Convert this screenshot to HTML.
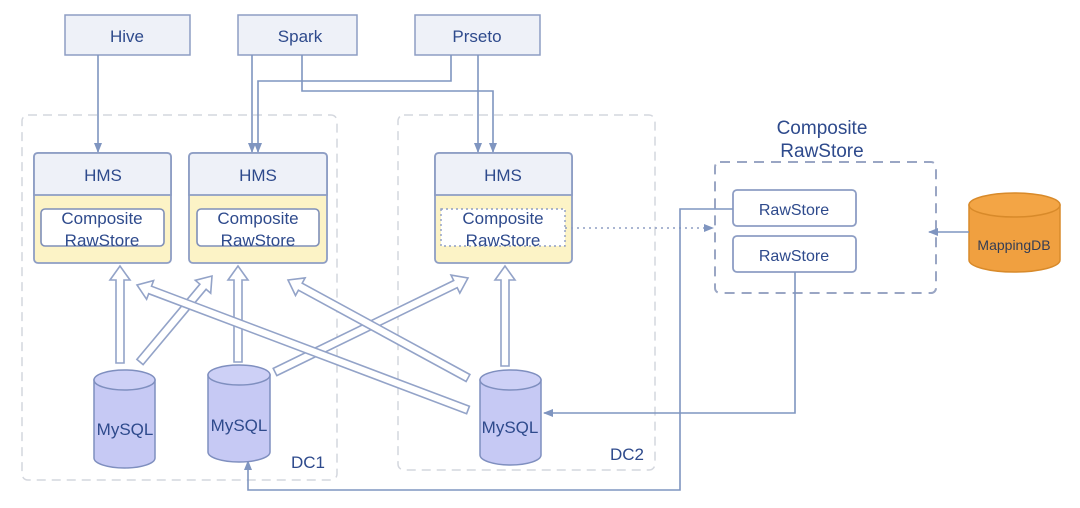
<!DOCTYPE html>
<html><head><meta charset="utf-8"><style>
html,body{margin:0;padding:0;background:#fff;}
svg{display:block;}
text{font-family:"Liberation Sans","DejaVu Sans",sans-serif;fill:#2e4a8c;}
</style></head><body>
<svg id="s" width="1080" height="508" viewBox="0 0 1080 508" xmlns="http://www.w3.org/2000/svg">
<defs>
<marker id="ah" markerWidth="10" markerHeight="10" refX="9" refY="5" orient="auto" markerUnits="userSpaceOnUse">
<path d="M0,1 L10,5 L0,9 Z" fill="#7f95c0"/></marker>
</defs>
<!-- DC boxes -->
<rect x="22" y="115" width="315" height="365" rx="6" fill="none" stroke="#d4d7de" stroke-width="1.5" stroke-dasharray="9,6"/>
<rect x="398" y="115" width="257" height="355" rx="6" fill="none" stroke="#d4d7de" stroke-width="1.5" stroke-dasharray="9,6"/>
<text x="308" y="468" font-size="17" text-anchor="middle">DC1</text>
<text x="627" y="460" font-size="17" text-anchor="middle">DC2</text>

<!-- top boxes -->
<g stroke="#8d9dc4" stroke-width="1.5" fill="#eef1f8">
<rect x="65" y="15" width="125" height="40"/>
<rect x="238" y="15" width="119" height="40"/>
<rect x="415" y="15" width="125" height="40"/>
</g>
<text x="127" y="42" font-size="17" text-anchor="middle">Hive</text>
<text x="300" y="42" font-size="17" text-anchor="middle">Spark</text>
<text x="477" y="42" font-size="17" text-anchor="middle">Prseto</text>

<!-- top connectors -->
<g stroke="#7f95c0" stroke-width="1.6" fill="none" marker-end="url(#ah)">
<path d="M98,55 V152"/>
<path d="M252,55 V152"/>
<path d="M451,55 V81 H258 V152"/>
<path d="M302,55 V91 H493 V152"/>
<path d="M478,55 V152"/>
</g>

<!-- HMS boxes -->
<g stroke="#8d9dc4" stroke-width="1.8">
<rect x="34" y="153" width="137" height="110" rx="4" fill="#fcf3c6"/>
<path d="M34,195 V157 Q34,153 38,153 H167 Q171,153 171,157 V195 Z" fill="#eef1f8"/>
<rect x="189" y="153" width="138" height="110" rx="4" fill="#fcf3c6"/>
<path d="M189,195 V157 Q189,153 193,153 H323 Q327,153 327,157 V195 Z" fill="#eef1f8"/>
<rect x="435" y="153" width="137" height="110" rx="4" fill="#fcf3c6"/>
<path d="M435,195 V157 Q435,153 439,153 H568 Q572,153 572,157 V195 Z" fill="#eef1f8"/>
</g>
<g stroke="#7f8fb8" stroke-width="1.6" fill="#fff">
<rect x="41" y="209" width="123" height="37" rx="4"/>
<rect x="197" y="209" width="122" height="37" rx="4"/>
</g>
<rect x="441" y="209" width="124" height="37" fill="#fff" stroke="#8d9dc4" stroke-width="1.4" stroke-dasharray="2,3"/>
<g font-size="17" text-anchor="middle">
<text x="103" y="181">HMS</text><text x="258" y="181">HMS</text><text x="503" y="181">HMS</text>
<text x="102" y="224">Composite</text><text x="102" y="246">RawStore</text>
<text x="258" y="224">Composite</text><text x="258" y="246">RawStore</text>
<text x="503" y="224">Composite</text><text x="503" y="246">RawStore</text>
</g>

<!-- composite rawstore -->
<text x="822" y="134" font-size="19" text-anchor="middle">Composite</text>
<text x="822" y="157" font-size="19" text-anchor="middle">RawStore</text>
<rect x="715" y="162" width="221" height="131" rx="5" fill="none" stroke="#9aa6c4" stroke-width="2" stroke-dasharray="10,7"/>
<g stroke="#8d9dc4" stroke-width="1.8" fill="#fff">
<rect x="733" y="190" width="123" height="36" rx="4"/>
<rect x="733" y="236" width="123" height="36" rx="4"/>
</g>
<text x="794" y="215" font-size="16" text-anchor="middle">RawStore</text>
<text x="794" y="261" font-size="16" text-anchor="middle">RawStore</text>

<!-- MappingDB -->
<path d="M969,205 V260 A45.5,12 0 0 0 1060,260 V205 Z" fill="#f0a040" stroke="#d88a2a" stroke-width="1.5"/>
<ellipse cx="1014.5" cy="205" rx="45.5" ry="12" fill="#f3a545" stroke="#d88a2a" stroke-width="1.5"/>
<text x="1014" y="250" font-size="14" text-anchor="middle" style="fill:#333d55">MappingDB</text>

<!-- other connectors -->
<path d="M565,228 H713" stroke="#8d9dc4" stroke-width="1.6" stroke-dasharray="2,4" fill="none" marker-end="url(#ah)"/>
<g stroke="#7f95c0" stroke-width="1.6" fill="none">
<path d="M969,232 H929" marker-end="url(#ah)"/>
<path d="M795,272 V413 H544" marker-end="url(#ah)"/>
<path d="M733,209 H680 V490 H248 V461" marker-end="url(#ah)"/>
</g>

<!-- MySQL cylinders -->
<g id="cyl" stroke="#7f8fbf" stroke-width="1.5">
<path d="M94,380 V458 A30.5,10 0 0 0 155,458 V380 Z" fill="#c6c9f4"/>
<ellipse cx="124.5" cy="380" rx="30.5" ry="10" fill="#cdd0f6"/>
<path d="M208,375 V452 A31,10 0 0 0 270,452 V375 Z" fill="#c6c9f4"/>
<ellipse cx="239" cy="375" rx="31" ry="10" fill="#cdd0f6"/>
<path d="M480,380 V455 A30.5,10 0 0 0 541,455 V380 Z" fill="#c6c9f4"/>
<ellipse cx="510.5" cy="380" rx="30.5" ry="10" fill="#cdd0f6"/>
</g>
<g font-size="17" text-anchor="middle">
<text x="125" y="435">MySQL</text><text x="239" y="431">MySQL</text><text x="510" y="433">MySQL</text>
</g>
<g id="arrows"></g>
</svg>
<script>
var arr=[[120,363,120,266],[238,362,238,266],[505,366,505,266],[140,362,212,276],[275,372,468,278],[468,410,137,285],[468,378,288,280]];
var g=document.getElementById('arrows'),ns='http://www.w3.org/2000/svg';
arr.forEach(function(a){
 var x1=a[0],y1=a[1],x2=a[2],y2=a[3],dx=x2-x1,dy=y2-y1,L=Math.sqrt(dx*dx+dy*dy),ux=dx/L,uy=dy/L,px=-uy,py=ux;
 var w=4,hw=10,hl=14,bx=x2-ux*hl,by=y2-uy*hl;
 var pts=[[x1+px*w,y1+py*w],[bx+px*w,by+py*w],[bx+px*hw,by+py*hw],[x2,y2],[bx-px*hw,by-py*hw],[bx-px*w,by-py*w],[x1-px*w,y1-py*w]];
 var p=document.createElementNS(ns,'polygon');
 p.setAttribute('points',pts.map(function(q){return q[0].toFixed(1)+','+q[1].toFixed(1)}).join(' '));
 p.setAttribute('fill','#fff');p.setAttribute('stroke','#93a3c8');p.setAttribute('stroke-width','1.6');
 g.appendChild(p);
});
</script>
</body></html>
